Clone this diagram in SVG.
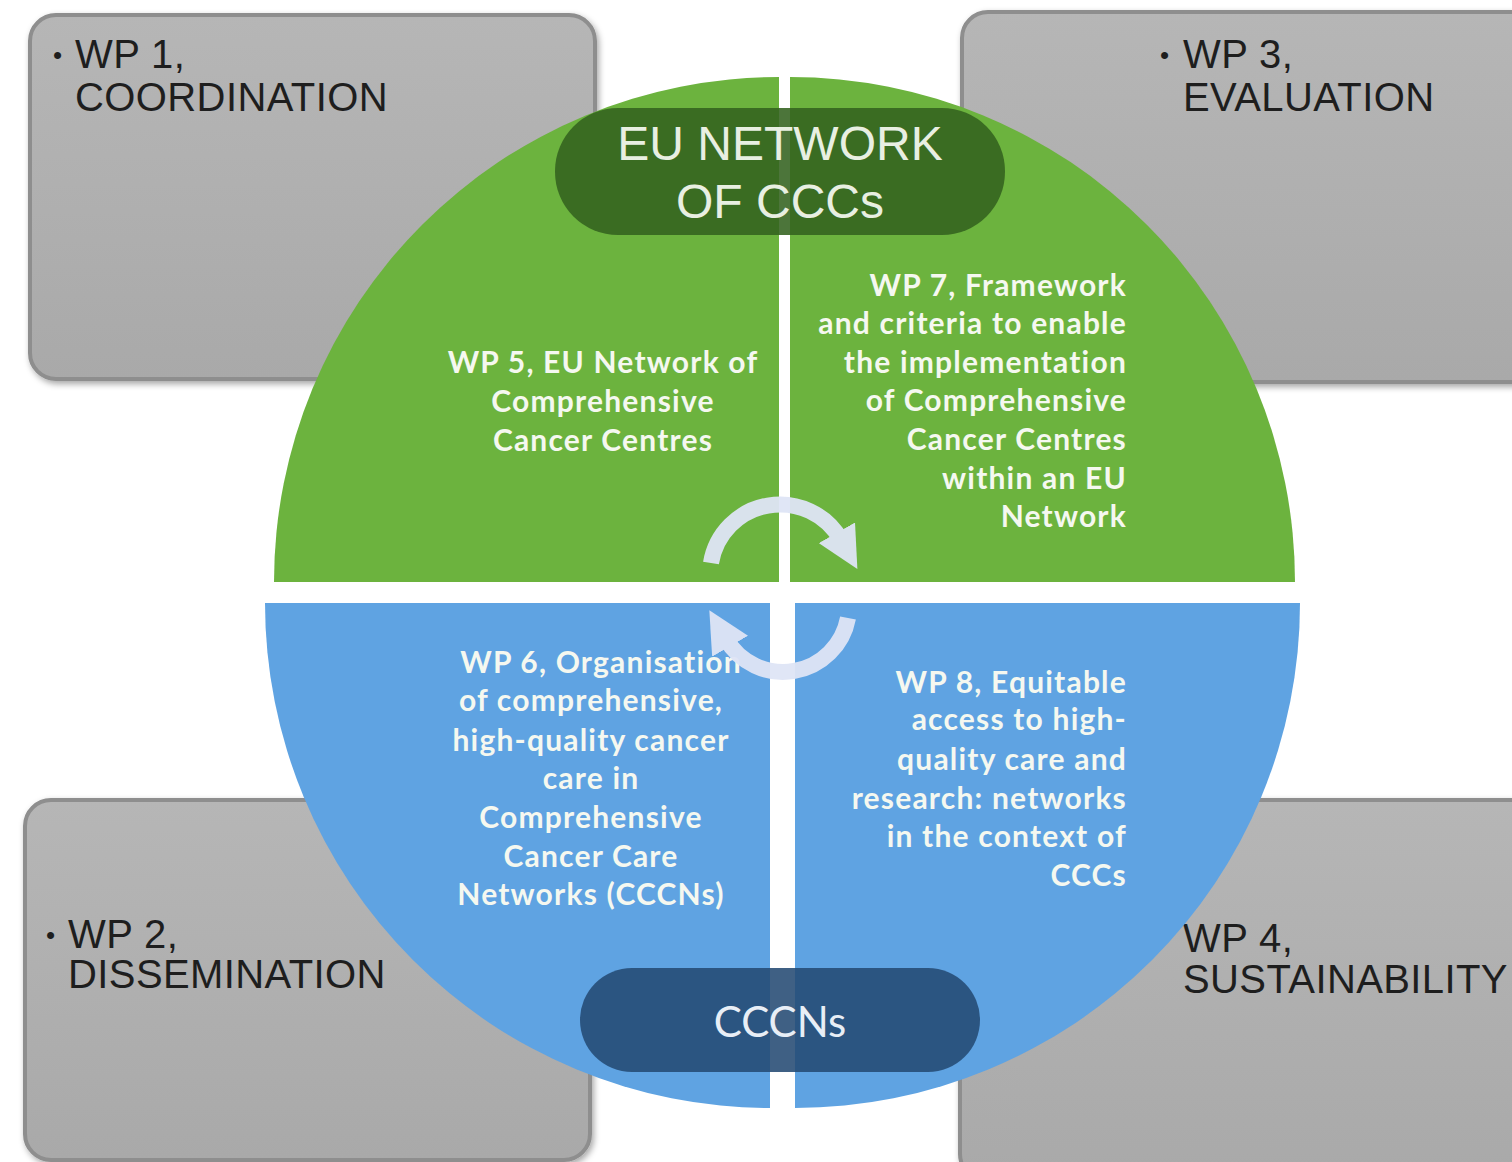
<svg xmlns="http://www.w3.org/2000/svg" width="1512" height="1162" viewBox="0 0 1512 1162">
<defs>
<linearGradient id="gbox" x1="0" y1="0" x2="0" y2="1">
<stop offset="0" stop-color="#b6b6b6"/>
<stop offset="1" stop-color="#a9a9a9"/>
</linearGradient>
<filter id="sh" x="-10%" y="-10%" width="120%" height="120%">
<feDropShadow dx="2" dy="3" stdDeviation="3" flood-color="#000" flood-opacity="0.35"/>
</filter>
<marker id="ah" viewBox="0 0 10 10" refX="2" refY="5" markerWidth="2.6" markerHeight="2.6" orient="auto" markerUnits="strokeWidth">
<path d="M0,0 L10,5 L0,10 Z" fill="#dfe5f6"/>
</marker>
</defs>
<style>
.box{fill:url(#gbox);stroke:#8e8e8e;stroke-width:4;filter:url(#sh)}
.bt{font-family:"Liberation Sans",Arial,sans-serif;font-size:40px;letter-spacing:0.4px;fill:#1e1e1e}
.bul{font-family:"Liberation Sans",Arial,sans-serif;font-size:26px;fill:#1e1e1e}
.qt{font-family:Lato,"Open Sans",sans-serif;font-weight:700;font-size:30px;letter-spacing:1.2px;fill:#f5f8f0}
.pt{font-family:"Liberation Sans",Arial,sans-serif;font-size:48px;fill:#e8efe2;text-anchor:middle}
.arc{fill:none;stroke:#dfe5f6;stroke-width:16;opacity:0.95}
</style>
<rect width="1512" height="1162" fill="#ffffff"/>

<g id="wp1">
<rect class="box" x="30" y="15" width="565" height="364" rx="26"/>
<text class="bul" x="53" y="64">•</text>
<text class="bt" x="75" y="68">WP 1,</text>
<text class="bt" x="75" y="111">COORDINATION</text>
</g>
<g id="wp3">
<rect class="box" x="962" y="12" width="580" height="370" rx="26"/>
<text class="bul" x="1160" y="64">•</text>
<text class="bt" x="1183" y="68">WP 3,</text>
<text class="bt" x="1183" y="111">EVALUATION</text>
</g>
<g id="wp2">
<rect class="box" x="25" y="800" width="565" height="360" rx="26"/>
<text class="bul" x="46" y="944">•</text>
<text class="bt" x="68" y="948">WP 2,</text>
<text class="bt" x="68" y="988">DISSEMINATION</text>
</g>
<g id="wp4">
<rect class="box" x="960" y="800" width="580" height="380" rx="26"/>
<text class="bt" x="1183" y="952">WP 4,</text>
<text class="bt" x="1183" y="993">SUSTAINABILITY</text>
</g>

<g id="wp5">
<path d="M779,582 L274,582 A505,505 0 0 1 779,77 Z" fill="#6cb33e"/>
<text class="qt" text-anchor="middle" x="603" y="373">WP 5, EU Network of</text>
<text class="qt" text-anchor="middle" x="603" y="412">Comprehensive</text>
<text class="qt" text-anchor="middle" x="603" y="451">Cancer Centres</text>
</g>
<g id="wp7">
<path d="M790,582 L790,77 A505,505 0 0 1 1295,582 Z" fill="#6cb33e"/>
<text class="qt" text-anchor="end" x="1127" y="296">WP 7, Framework</text>
<text class="qt" text-anchor="end" x="1127" y="334">and criteria to enable</text>
<text class="qt" text-anchor="end" x="1127" y="373">the implementation</text>
<text class="qt" text-anchor="end" x="1127" y="411">of Comprehensive</text>
<text class="qt" text-anchor="end" x="1127" y="450">Cancer Centres</text>
<text class="qt" text-anchor="end" x="1127" y="489">within an EU</text>
<text class="qt" text-anchor="end" x="1127" y="527">Network</text>
</g>
<g id="wp6">
<path d="M770,603 L770,1108 A505,505 0 0 1 265,603 Z" fill="#5fa3e2"/>
<text class="qt" text-anchor="middle" x="601" y="673">WP 6, Organisation</text>
<text class="qt" text-anchor="middle" x="591" y="711">of comprehensive,</text>
<text class="qt" text-anchor="middle" x="591" y="751">high-quality cancer</text>
<text class="qt" text-anchor="middle" x="591" y="789" font-size="32">care in</text>
<text class="qt" text-anchor="middle" x="591" y="828">Comprehensive</text>
<text class="qt" text-anchor="middle" x="591" y="867">Cancer Care</text>
<text class="qt" text-anchor="middle" x="591" y="905">Networks (CCCNs)</text>
</g>
<g id="wp8">
<path d="M795,603 L1300,603 A505,505 0 0 1 795,1108 Z" fill="#5fa3e2"/>
<text class="qt" text-anchor="end" x="1127" y="693">WP 8, Equitable</text>
<text class="qt" text-anchor="end" x="1127" y="730">access to high-</text>
<text class="qt" text-anchor="end" x="1127" y="770">quality care and</text>
<text class="qt" text-anchor="end" x="1127" y="809">research: networks</text>
<text class="qt" text-anchor="end" x="1127" y="847">in the context of</text>
<text class="qt" text-anchor="end" x="1127" y="886">CCCs</text>
</g>

<g id="eu-network">
<rect x="555" y="108" width="450" height="127" rx="63" fill="#33621f" opacity="0.88"/>
<text class="pt" x="780" y="160">EU NETWORK</text>
<text class="pt" x="780" y="218">OF CCCs</text>
</g>
<g id="cccns">
<rect x="580" y="968" width="400" height="104" rx="52" fill="#244a73" opacity="0.88"/>
<text x="780" y="1037" text-anchor="middle" font-family="Lato,'Open Sans',sans-serif" font-size="42" fill="#e8eef6">CCCNs</text>
</g>

<g id="connectors">
<path class="arc" d="M711,563 A70,70 0 0 1 841,540" marker-end="url(#ah)"/>
<path class="arc" d="M848,618 A66,66 0 0 1 726,639" marker-end="url(#ah)"/>
</g>
</svg>
